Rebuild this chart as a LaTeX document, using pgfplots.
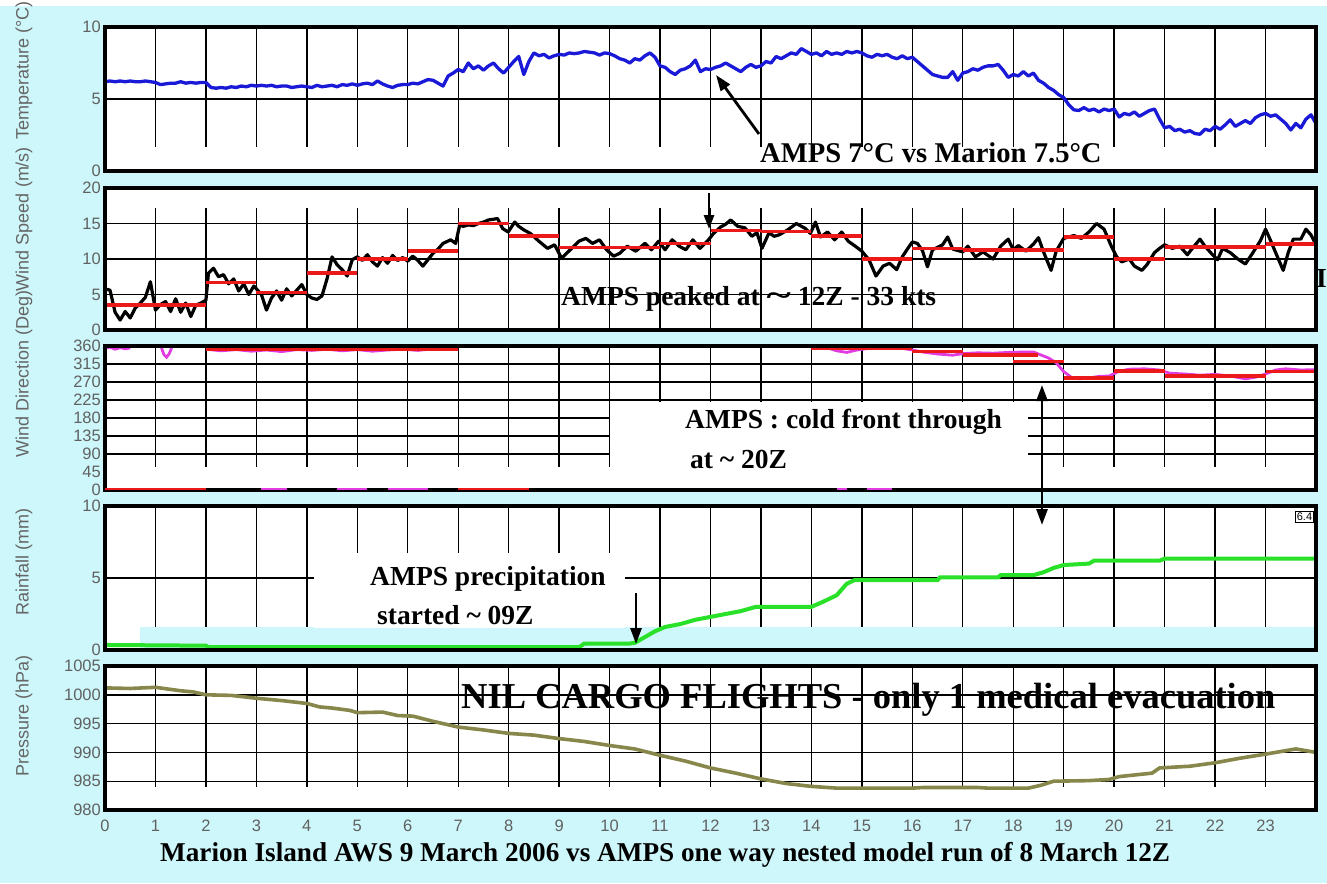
\documentclass[border=0pt]{standalone}
\usepackage{pgfplots}
\pgfplotsset{compat=1.18}
\usepackage{fontspec}
\setmainfont{Liberation Serif}
\newfontfamily\arialf{Liberation Sans}
\usetikzlibrary{arrows.meta}

\definecolor{bgc}{RGB}{205,247,250}
\definecolor{tblue}{RGB}{25,25,215}
\definecolor{wred}{RGB}{235,25,25}
\definecolor{wmag}{RGB}{225,60,225}
\definecolor{rgreen}{RGB}{40,225,40}
\definecolor{polive}{RGB}{135,135,75}

\newcommand\tickfont{\arialf\fontsize{16.5}{16.5}\selectfont}
\newcommand\labfont{\arialf\fontsize{18}{18}\selectfont}
\newcommand\annfont{\bfseries\fontsize{27.5}{30}\selectfont}
\newcommand\bigfont{\bfseries\fontsize{36.5}{40}\selectfont}

\tikzset{pframe/.style={line width=4pt}}
\pgfplotsset{
  panel/.style={
    at={(105pt,#1)}, anchor=north west, scale only axis, width=1211pt,
    xmin=0, xmax=24, xtick={0,...,23}, xticklabels={},
    grid=major, grid style={black, line width=1.4pt},
    major tick length=0pt,
    axis line style={draw=none},
    axis background/.style={fill=white},
    clip=false,
    every tick label/.append style={font=\tickfont, text=black!62},
    yticklabel style={anchor=east, inner sep=0pt, xshift=-4pt},
  },
}

\begin{document}
\begin{tikzpicture}
\path[use as bounding box] (0pt,0pt) rectangle (1327pt,-883pt);
\clip (0pt,0pt) rectangle (1327pt,-883pt);
\fill[bgc] (0pt,0pt) rectangle (1327pt,-883pt);
\fill[white] (0pt,0pt) rectangle (1327pt,-6pt);

% ---------------- temperature
\begin{axis}[panel=-27pt, height=144pt, ymin=0, ymax=10,
  ytick={0,5,10}, yticklabels={0,5,10}]
\fill[white] (axis cs:0,0) rectangle (axis cs:24,1.65);
\addplot[tblue, line width=3.3pt, mark=none, line join=round] coordinates {
(0,6.2)(0.1,6.25)(0.2,6.2)(0.3,6.25)(0.4,6.2)(0.5,6.25)(0.6,6.2)(0.7,6.2)(0.8,6.25)(0.9,6.2)
(1.0,6.15)(1.1,6.0)(1.2,6.05)(1.3,6.1)(1.4,6.1)(1.5,6.2)(1.6,6.1)(1.7,6.15)(1.8,6.1)(1.9,6.15)
(2.0,6.15)(2.1,5.8)(2.2,5.75)(2.3,5.8)(2.4,5.75)(2.5,5.85)(2.6,5.8)(2.7,5.9)(2.8,5.85)(2.9,5.95)
(3.0,5.9)(3.1,5.95)(3.2,5.9)(3.3,5.95)(3.4,5.85)(3.5,5.9)(3.6,5.9)(3.7,5.8)(3.8,5.85)(3.9,5.9)
(4.0,5.85)(4.1,5.8)(4.2,5.95)(4.3,5.85)(4.4,5.9)(4.5,5.95)(4.6,5.85)(4.7,6.0)(4.8,5.95)(4.9,6.05)
(5.0,5.95)(5.1,6.05)(5.2,6.1)(5.3,6.0)(5.4,6.25)(5.5,6.05)(5.6,5.9)(5.7,5.8)(5.8,5.95)(5.9,6.0)
(6.0,6.0)(6.1,6.1)(6.2,6.05)(6.3,6.2)(6.4,6.35)(6.5,6.3)(6.6,6.1)(6.7,5.9)(6.8,6.6)(6.9,6.8)
(7.0,7.05)(7.1,6.9)(7.2,7.5)(7.3,7.1)(7.4,7.3)(7.5,7.0)(7.6,7.3)(7.7,7.5)(7.8,7.1)(7.9,6.8)
(8.0,7.2)(8.1,7.6)(8.2,7.95)(8.3,6.7)(8.4,7.6)(8.5,8.2)(8.6,8.0)(8.7,8.1)(8.8,7.85)(8.9,8.0)
(9.0,8.1)(9.1,8.05)(9.2,8.2)(9.3,8.15)(9.4,8.2)(9.5,8.3)(9.6,8.25)(9.7,8.2)(9.8,8.05)(9.9,8.2)
(10.0,8.15)(10.1,8.0)(10.2,7.8)(10.3,7.7)(10.4,7.5)(10.5,7.8)(10.6,7.7)(10.7,8.0)(10.8,8.2)(10.9,7.9)
(11.0,7.3)(11.1,7.2)(11.2,6.9)(11.3,6.7)(11.4,7.0)(11.5,7.1)(11.6,7.3)(11.7,7.7)(11.8,6.9)(11.9,7.1)
(12.0,7.05)(12.1,7.2)(12.2,7.3)(12.3,7.5)(12.4,7.3)(12.5,7.1)(12.6,6.9)(12.7,7.2)(12.8,7.4)(12.9,7.2)
(13.0,7.3)(13.1,7.6)(13.2,7.5)(13.3,7.95)(13.4,7.8)(13.5,8.0)(13.6,8.2)(13.7,8.1)(13.8,8.5)(13.9,8.3)
(14.0,8.1)(14.1,8.2)(14.2,8.0)(14.3,8.3)(14.4,8.1)(14.5,8.2)(14.6,8.1)(14.7,8.3)(14.8,8.2)(14.9,8.3)
(15.0,8.2)(15.1,8.0)(15.2,7.9)(15.3,8.1)(15.4,8.0)(15.5,8.1)(15.6,7.9)(15.7,7.8)(15.8,8.0)(15.9,7.8)
(16.0,7.9)(16.1,7.6)(16.2,7.3)(16.3,7.0)(16.4,6.7)(16.5,6.6)(16.6,6.5)(16.7,6.5)(16.8,6.9)(16.9,6.3)
(17.0,6.8)(17.1,6.9)(17.2,7.1)(17.3,7.0)(17.4,7.2)(17.5,7.3)(17.6,7.3)(17.7,7.4)(17.8,7.0)(17.9,6.5)
(18.0,6.7)(18.1,6.6)(18.2,6.9)(18.3,6.6)(18.4,6.8)(18.5,6.3)(18.6,6.1)(18.7,5.8)(18.8,5.6)(18.9,5.3)
(19.0,5.1)(19.1,4.6)(19.2,4.25)(19.3,4.2)(19.4,4.4)(19.5,4.2)(19.6,4.3)(19.7,4.1)(19.8,4.3)(19.9,4.2)
(20.0,4.3)(20.1,3.75)(20.2,4.0)(20.3,3.9)(20.4,4.1)(20.5,3.8)(20.6,4.0)(20.7,4.2)(20.8,4.3)(20.9,3.6)
(21.0,3.0)(21.1,3.1)(21.2,2.8)(21.3,2.9)(21.4,2.7)(21.5,2.8)(21.6,2.6)(21.7,2.55)(21.8,2.9)(21.9,2.8)
(22.0,3.1)(22.1,2.9)(22.2,3.2)(22.3,3.55)(22.4,3.1)(22.5,3.3)(22.6,3.5)(22.7,3.3)(22.8,3.7)(22.9,3.9)
(23.0,4.0)(23.1,3.8)(23.2,3.9)(23.3,3.6)(23.4,3.3)(23.5,2.85)(23.6,3.3)(23.7,3.0)(23.8,3.6)(23.9,3.9)(24.0,3.3)
};
\draw[pframe] (rel axis cs:0,0) rectangle (rel axis cs:1,1);
\end{axis}

% ---------------- wind speed
\begin{axis}[panel=-188pt, height=142pt, ymin=0, ymax=20,
  ytick={0,5,10,15,20}, yticklabels={0,5,10,15,20}]
\fill[white] (axis cs:0,17.2) rectangle (axis cs:24,20);
\addplot[black, line width=3.2pt, mark=none, line join=round] coordinates {
(0.0,5.8)(0.1,5.6)(0.2,2.5)(0.3,1.4)(0.4,2.6)(0.5,1.7)(0.6,3.1)(0.7,3.8)(0.8,4.6)(0.9,6.8)
(1.0,2.8)(1.1,3.6)(1.2,4.0)(1.3,2.6)(1.4,4.4)(1.5,2.5)(1.6,3.8)(1.7,1.9)(1.8,3.5)(1.9,3.8)
(2.0,4.2)(2.05,8.0)(2.15,8.7)(2.25,7.5)(2.35,7.8)(2.45,6.5)(2.55,7.2)(2.65,5.5)(2.75,6.5)(2.85,5.0)(2.95,6.2)
(3.05,5.4)(3.1,5.0)(3.2,2.8)(3.3,4.5)(3.4,5.5)(3.5,4.2)(3.6,5.8)(3.7,4.8)(3.8,5.6)(3.9,6.4)
(4.0,5.0)(4.1,4.5)(4.2,4.3)(4.3,4.8)(4.4,7.2)(4.5,10.3)(4.6,9.2)(4.7,8.5)(4.8,7.6)(4.9,9.9)
(5.0,10.3)(5.1,9.8)(5.2,10.6)(5.3,9.6)(5.4,9.0)(5.5,10.2)(5.6,9.4)(5.7,10.5)(5.8,9.8)(5.9,10.2)
(6.0,9.7)(6.1,10.4)(6.2,9.8)(6.3,9.0)(6.4,9.9)(6.5,10.8)(6.6,11.4)(6.7,12.2)(6.85,12.7)(6.95,12.2)
(7.03,14.8)(7.1,14.6)(7.2,14.8)(7.3,14.7)(7.4,15.0)(7.5,15.2)(7.6,15.5)(7.7,15.6)(7.78,15.7)(7.88,14.3)
(7.99,13.8)(8.12,15.2)(8.2,14.6)(8.3,14.1)(8.43,13.6)(8.6,12.5)(8.77,11.5)(8.91,12.0)(9.05,10.1)(9.22,11.3)
(9.39,12.5)(9.53,12.9)(9.66,12.2)(9.8,12.7)(9.94,11.3)(10.08,10.4)(10.2,10.8)(10.35,11.8)(10.52,11.1)(10.7,12.2)
(10.83,11.3)(10.97,12.5)(11.1,11.3)(11.24,12.7)(11.38,11.8)(11.51,11.3)(11.65,12.7)(11.79,11.5)(11.96,12.7)(12.06,13.6)
(12.2,14.5)(12.3,14.9)(12.4,15.5)(12.54,14.6)(12.68,14.4)(12.82,13.2)(12.92,13.7)(13.02,11.5)(13.16,13.7)(13.26,13.2)
(13.36,13.4)(13.53,14.1)(13.7,15.0)(13.88,14.3)(13.98,13.6)(14.08,15.2)(14.18,13.1)(14.32,13.8)(14.46,12.7)(14.6,13.8)
(14.73,12.5)(14.87,11.8)(15.0,11.1)(15.14,9.9)(15.28,7.6)(15.42,9.0)(15.55,9.4)(15.69,8.5)(15.8,10.3)(15.93,11.7)
(16.0,12.4)(16.1,12.2)(16.2,11.2)(16.3,8.9)(16.4,11.3)(16.6,12.0)(16.7,13.1)(16.8,11.4)(17.0,11.0)(17.1,11.8)
(17.25,10.3)(17.4,11.0)(17.6,10.0)(17.75,11.8)(17.9,12.8)(18.0,11.3)(18.1,11.9)(18.25,11.1)(18.4,12.1)(18.5,13.0)
(18.6,11.0)(18.75,8.4)(18.85,11.1)(19.0,12.9)(19.2,13.3)(19.35,12.9)(19.5,13.8)(19.65,15.0)(19.8,14.2)(19.95,11.7)
(20.05,10.3)(20.15,9.6)(20.3,10.0)(20.4,9.0)(20.55,8.4)(20.65,9.2)(20.8,10.9)(20.9,11.5)(21.0,12.0)(21.15,11.5)
(21.3,11.8)(21.45,10.6)(21.55,11.5)(21.7,12.8)(21.8,11.8)(21.95,10.6)(22.05,9.9)(22.15,11.5)(22.3,10.9)(22.45,10.0)
(22.6,9.3)(22.75,10.9)(22.9,12.6)(23.0,14.2)(23.1,12.6)(23.2,10.9)(23.35,8.4)(23.45,10.9)(23.55,12.8)(23.7,12.8)
(23.8,14.2)(23.9,13.4)(24.0,12.0)
};
\addplot[wred, line width=3.6pt, mark=none, jump mark left] coordinates {
(0,3.5)(1,3.5)(2,6.7)(3,5.3)(4,8.0)(5,10.0)(6,11.1)(7,15.0)(8,13.2)(9,11.6)(10,11.6)(11,12.2)
(12,14.0)(13,13.9)(14,13.2)(15,10.0)(16,11.5)(17,11.3)(18,11.3)(19,13.1)(20,10.0)(21,11.7)(22,11.7)(23,12.1)(24,12.1)
};
\draw[pframe] (rel axis cs:0,0) rectangle (rel axis cs:1,1);
\end{axis}

% ---------------- wind direction
\begin{axis}[panel=-346pt, height=144pt, ymin=0, ymax=360,
  ytick={0,45,...,360}, yticklabels={0,45,90,135,180,225,270,315,360}]
\fill[white] (axis cs:0,0) rectangle (axis cs:24,57.5);
\fill[white] (axis cs:10.0,0) rectangle (axis cs:18.3,220);
\addplot[wmag, line width=2.8pt, mark=none] coordinates {(0,355)(0.1,357)(0.2,352)(0.3,356)(0.4,353)(0.5,355)};
\addplot[wmag, line width=2.8pt, mark=none] coordinates {(1.12,355)(1.17,338)(1.22,332)(1.27,340)(1.32,355)};
\addplot[wmag, line width=2.8pt, mark=none] coordinates {
(2.0,352)(2.3,348)(2.6,351)(2.9,347)(3.2,350)(3.5,346)(3.8,351)(4.1,349)(4.4,352)(4.7,348)
(5.0,351)(5.3,347)(5.6,350)(5.9,352)(6.2,349)(6.5,353)(6.8,351)(7.0,352)};
\addplot[wmag, line width=2.8pt, mark=none] coordinates {
(14.0,355)(14.3,356)(14.5,348)(14.7,344)(14.9,350)(15.2,355)(15.5,356)(15.8,354)(16.0,350)(16.2,345)
(16.5,340)(16.8,337)(17.0,341)(17.3,343)(17.6,342)(17.9,344)(18.2,345)(18.4,345)(18.5,340)(18.7,330)
(18.85,318)(19.0,296)(19.15,282)(19.3,278)(19.5,280)(19.7,284)(19.9,285)(20.1,297)(20.3,302)(20.6,303)
(20.9,300)(21.1,292)(21.4,290)(21.7,287)(22.0,289)(22.3,285)(22.6,278)(22.8,282)(23.0,290)(23.2,300)
(23.4,303)(23.7,300)(24.0,301)};
\addplot[wred, line width=3.6pt, mark=none] coordinates {(2,351)(7,351)};
\addplot[wred, line width=3.6pt, mark=none] coordinates {(14,354)(16,354)};
\addplot[wred, line width=3.6pt, mark=none] coordinates {(16,346)(17,346)};
\addplot[wred, line width=3.6pt, mark=none] coordinates {(17,337)(18.5,337)};
\addplot[wred, line width=3.6pt, mark=none] coordinates {(18,321)(19,321)};
\addplot[wred, line width=3.6pt, mark=none] coordinates {(19,280)(20,280)};
\addplot[wred, line width=3.6pt, mark=none] coordinates {(20,298)(21,298)};
\addplot[wred, line width=3.6pt, mark=none] coordinates {(21,285)(23,285)};
\addplot[wred, line width=3.6pt, mark=none] coordinates {(23,296)(24,296)};
\draw[pframe] (rel axis cs:0,0) rectangle (rel axis cs:1,1);
\addplot[wred, line width=2.4pt, mark=none] coordinates {(0,3)(2,3)};
\addplot[wred, line width=2.4pt, mark=none] coordinates {(7,3)(8.4,3)};
\addplot[wmag, line width=2.4pt, mark=none] coordinates {(3.1,3)(3.6,3)};
\addplot[wmag, line width=2.4pt, mark=none] coordinates {(4.6,3)(5.2,3)};
\addplot[wmag, line width=2.4pt, mark=none] coordinates {(5.6,3)(6.4,3)};
\addplot[wmag, line width=2.4pt, mark=none] coordinates {(14.5,3)(14.7,3)};
\addplot[wmag, line width=2.4pt, mark=none] coordinates {(15.1,3)(15.6,3)};
\end{axis}

% ---------------- rainfall
\begin{axis}[panel=-506pt, height=144pt, ymin=0, ymax=10,
  ytick={0,5,10}, yticklabels={0,5,10}]
\fill[white] (axis cs:0,0) rectangle (axis cs:0.7,1.6);
\fill[bgc] (axis cs:0.69,0) rectangle (axis cs:24,1.6);
\fill[white] (axis cs:4.15,1.55) rectangle (axis cs:10.3,6.75);
\addplot[rgreen, line width=4pt, mark=none] coordinates {
(0,0.35)(2.0,0.3)(2.05,0.2)(9.4,0.2)(9.5,0.45)(10.4,0.45)(10.5,0.5)(10.7,0.9)(10.9,1.3)(11.1,1.6)
(11.4,1.8)(11.7,2.1)(12.0,2.3)(12.3,2.5)(12.6,2.7)(12.9,3.0)(14.0,3.0)(14.2,3.3)(14.5,3.8)(14.7,4.6)
(14.85,4.85)(16.5,4.85)(16.55,5.05)(17.7,5.05)(17.75,5.2)(18.4,5.2)(18.6,5.4)(18.8,5.7)(19.0,5.9)(19.5,6.0)
(19.6,6.2)(20.9,6.2)(21.0,6.35)(24,6.35)};
\draw[pframe] (rel axis cs:0,0) rectangle (rel axis cs:1,1);
\end{axis}

% ---------------- pressure
\begin{axis}[panel=-666pt, height=144pt, ymin=980, ymax=1005,
  ytick={980,985,...,1005}, yticklabels={980,985,990,995,1000,1005},
  xticklabels={0,1,2,3,4,5,6,7,8,9,10,11,12,13,14,15,16,17,18,19,20,21,22,23},
  xticklabel style={anchor=north, inner sep=0pt, yshift=-10pt}]
\fill[white] (axis cs:0,980) rectangle (axis cs:24,984);
\addplot[polive, line width=3.6pt, mark=none] coordinates {
(0,1001.2)(0.5,1001.1)(1.0,1001.3)(1.25,1001.0)(1.5,1000.7)(1.75,1000.5)(2.0,1000.0)(2.5,999.9)(3.0,999.4)(3.5,999.0)
(4.0,998.5)(4.25,997.9)(4.5,997.7)(4.85,997.3)(5.0,996.9)(5.5,997.0)(5.8,996.4)(6.1,996.3)(6.5,995.4)(7.0,994.4)
(7.5,993.9)(8.0,993.3)(8.5,993.0)(9.0,992.4)(9.5,991.9)(10.0,991.2)(10.5,990.6)(11.0,989.5)(11.5,988.5)(12.0,987.3)
(12.5,986.4)(13.0,985.4)(13.5,984.6)(14.0,984.1)(14.5,983.8)(16.0,983.8)(16.2,983.9)(17.3,983.9)(17.5,983.8)(18.3,983.8)
(18.55,984.3)(18.8,985.0)(19.5,985.1)(19.9,985.3)(20.1,985.8)(20.75,986.4)(20.9,987.3)(21.5,987.6)(22.0,988.2)(22.5,989.0)
(23.0,989.7)(23.6,990.6)(24.0,990.0)};
\draw[pframe] (rel axis cs:0,0) rectangle (rel axis cs:1,1);
\end{axis}

\begin{scope}[x=1pt,y=1pt]
% axis titles
\node[rotate=90, anchor=west, font=\labfont, text=black!60, inner sep=0pt] at (24,-140) {Temperature (°C)};
\node[rotate=90, font=\labfont, text=black!60, inner sep=0pt] at (24,-219) {Wind Speed (m/s)};
\node[rotate=90, font=\labfont, text=black!60, inner sep=0pt] at (24,-374) {Wind Direction (Deg)};
\node[rotate=90, font=\labfont, text=black!60, inner sep=0pt] at (24,-562) {Rainfall (mm)};
\node[rotate=90, font=\labfont, text=black!60, inner sep=0pt] at (24,-716) {Pressure (hPa)};

% annotations
\node[anchor=base west, inner sep=0pt, font=\bfseries\fontsize{28.6}{30}\selectfont] at (760,-162) {AMPS 7°C vs Marion 7.5°C};
\node[anchor=base west, inner sep=0pt, font=\annfont] at (561,-305) {AMPS peaked at \scalebox{1.7}[1.1]{\textasciitilde} 12Z - 33 kts};
\node[anchor=base west, inner sep=0pt, font=\annfont] at (685,-428) {AMPS : cold front through};
\node[anchor=base west, inner sep=0pt, font=\annfont] at (690,-468) {at \textasciitilde{} 20Z};
\node[anchor=base west, inner sep=0pt, font=\annfont] at (370,-585) {AMPS precipitation};
\node[anchor=base west, inner sep=0pt, font=\annfont] at (377,-624) {started \textasciitilde{} 09Z};
\node[anchor=base west, inner sep=0pt, font=\bigfont] at (461,-708) {NIL CARGO FLIGHTS - only 1 medical evacuation};
\node[anchor=base west, inner sep=0pt, font=\bfseries\fontsize{27.2}{30}\selectfont] at (160,-861) {Marion Island AWS 9 March 2006 vs AMPS one way nested model run of 8 March 12Z};
\node[anchor=base west, inner sep=0pt, font=\annfont] at (1316,-287) {I};

\node[draw, line width=0.8pt, fill=white, inner sep=1.5pt, anchor=north east,
  font=\arialf\fontsize{11}{11}\selectfont] at (1314,-511) {6.4};

% arrows
\draw[line width=2.8pt, -{Triangle[length=16pt,width=11pt]}] (759,-134) -- (716,-75);
\draw[line width=2.8pt, -{Triangle[length=14pt,width=10pt]}] (709,-193) -- (709,-229);
\draw[line width=2.8pt, {Triangle[length=16pt,width=11pt]}-{Triangle[length=16pt,width=11pt]}] (1042,-385) -- (1042,-525);
\draw[line width=2.8pt, -{Triangle[length=16pt,width=11pt]}] (636,-593) -- (636,-644);
\end{scope}
\end{tikzpicture}
\end{document}
